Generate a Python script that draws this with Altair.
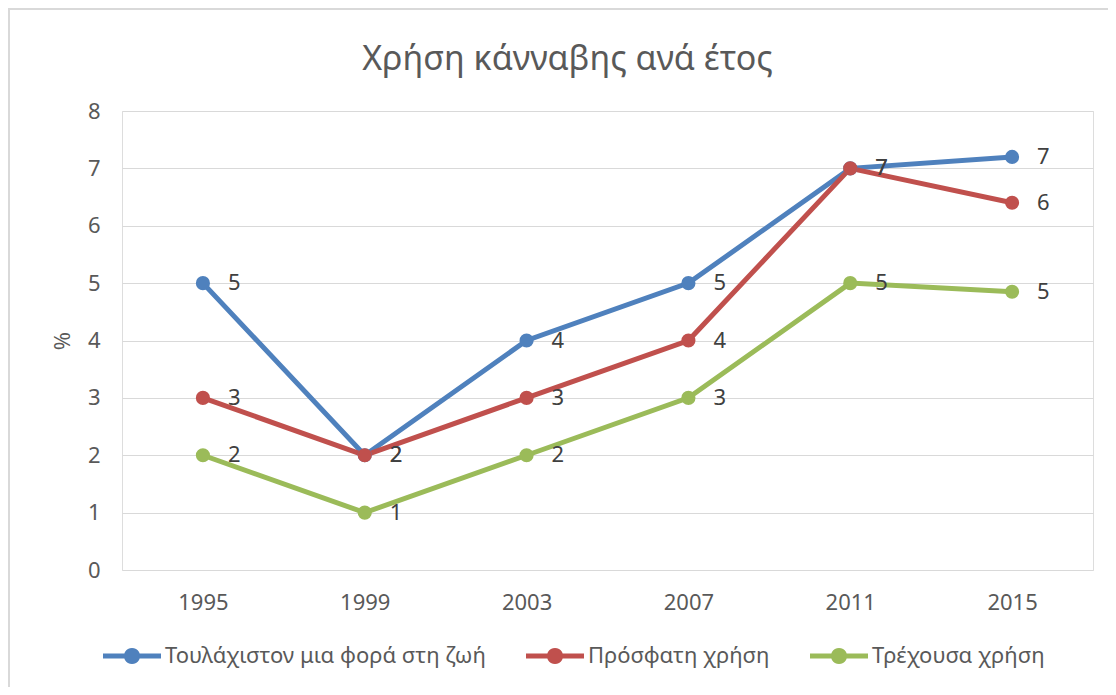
import math
import altair as alt
import pandas as pd

years = ["1995", "1999", "2003", "2007", "2011", "2015"]
series_names = ["Τουλάχιστον μια φορά στη ζωή", "Πρόσφατη χρήση", "Τρέχουσα χρήση"]
lifetime = [5, 2, 4, 5, 7, 7.2]
recent = [3, 2, 3, 4, 7, 6.4]
current = [2, 1, 2, 3, 5, 4.85]
colors = ["#4F81BD", "#C0504D", "#9BBB59"]
y_ticks = [0, 1, 2, 3, 4, 5, 6, 7, 8]
title_text = "Χρήση κάνναβης ανά έτος"
y_title = "%"

rows = []
for name, col, vals in zip(series_names, colors, [lifetime, recent, current]):
    for yr, v in zip(years, vals):
        rows.append({"year": yr, "value": v, "series": name, "hex": col})
df = pd.DataFrame(rows)

FONT = "Noto Sans"
W, H = 971, 459
PAD_L, PAD_T = 114, 103
PAD_R = 1100 - PAD_L - W
PAD_B = 679 - PAD_T - H

# legend symbol: a short thick line with a dot in the middle
_h, _r = 0.085, 0.28
_circle = " ".join(
    ("M" if i == 0 else "L") + f"{_r * math.cos(2 * math.pi * i / 24):.4f},{_r * math.sin(2 * math.pi * i / 24):.4f}"
    for i in range(24)
) + " Z"
sym_path = f"M-1,{-_h} L1,{-_h} L1,{_h} L-1,{_h} Z " + _circle

x_enc = alt.X(
    "year:O", title=None, sort=years,
    scale=alt.Scale(padding=0.5),
    axis=alt.Axis(labelAngle=0, labelPadding=22, labelFontSize=22, labelColor="#595959",
                  labelFont=FONT, ticks=False, domain=False, grid=False),
)
y_enc = alt.Y(
    "value:Q", title=y_title,
    scale=alt.Scale(domain=[0, 8], nice=False),
    axis=alt.Axis(values=y_ticks, format="d", labelPadding=22, labelFontSize=22,
                  labelColor="#595959", labelFont=FONT, grid=True, gridColor="#d9d9d9",
                  gridWidth=1, domain=False, ticks=False, titleFontSize=22,
                  titleFontWeight="normal", titleColor="#595959", titleFont=FONT,
                  titleX=-60, titleY=H / 2, titleBaseline="middle"),
)
color_scale = alt.Scale(domain=series_names, range=colors)

base = alt.Chart(df)

frame = alt.Chart(pd.DataFrame({"k": [0]})).mark_rect(
    fillOpacity=0, stroke="#d9d9d9", strokeWidth=2, clip=False
).encode(
    x=alt.value(-PAD_L + 1), x2=alt.value(W + PAD_R + 50),
    y=alt.value(-PAD_T + 1), y2=alt.value(H + PAD_B + 50),
)

title = alt.Chart(pd.DataFrame({"t": [title_text]})).mark_text(
    fontSize=34, font=FONT, color="#595959", align="center", baseline="alphabetic"
).encode(
    text="t:N", x=alt.value(W / 2 - 40), y=alt.value(-41),
)

lines = base.mark_line(strokeWidth=5).encode(
    x=x_enc, y=y_enc,
    stroke=alt.Stroke("hex:N", scale=None),
    detail="series:N",
)

points = base.mark_point(filled=True, size=200, opacity=1).encode(
    x=x_enc, y=y_enc,
    color=alt.Color(
        "series:N", scale=color_scale, sort=series_names,
        legend=alt.Legend(
            title=None, orient="none", legendX=-19, legendY=516, direction="horizontal",
            symbolType=sym_path, symbolSize=3364, symbolStrokeWidth=0,
            labelFontSize=22, labelColor="#595959", labelFont=FONT, columnPadding=40,
            labelOffset=4, labelLimit=1000,
        ),
    ),
)

labels = base.mark_text(align="left", baseline="middle", dx=25, fontSize=22,
                        color="#404040", font=FONT).encode(
    x=x_enc, y=y_enc,
    text=alt.Text("value:Q", format=".0f"),
)

chart = alt.layer(frame, title, lines, points, labels).properties(
    width=W, height=H,
    autosize=alt.AutoSizeParams(type="none"),
    padding={"left": PAD_L, "top": PAD_T, "right": PAD_R, "bottom": PAD_B},
).configure_view(stroke=None).configure(background="white")

chart.save("out.html", embed_options={"renderer": "svg", "actions": False})
